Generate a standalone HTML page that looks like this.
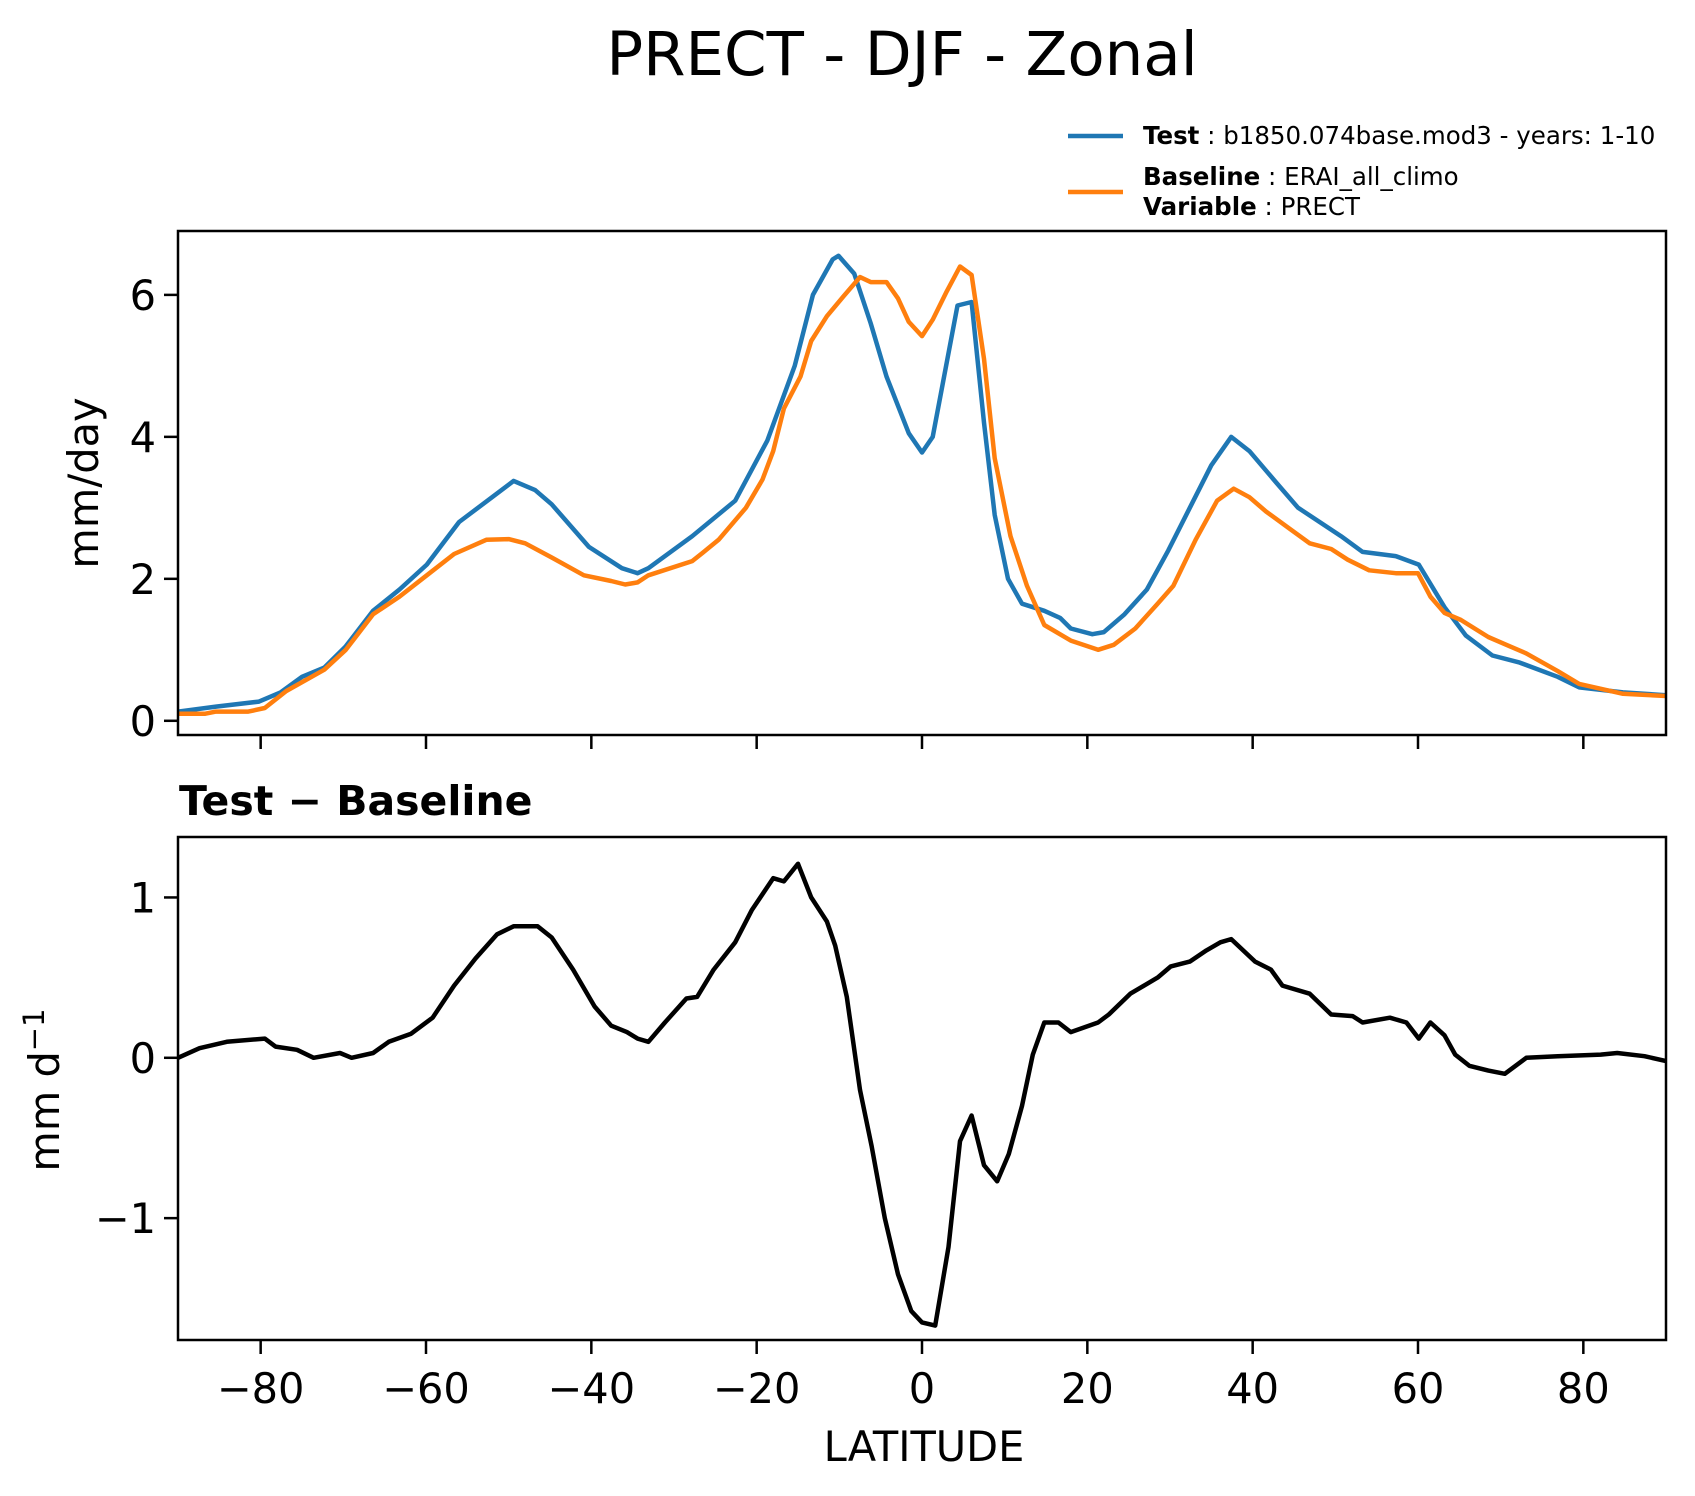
<!DOCTYPE html>
<html><head><meta charset="utf-8"><style>
html,body{margin:0;padding:0;background:#fff}
svg{display:block;font-family:"DejaVu Sans","Liberation Sans",sans-serif}
</style></head><body>
<svg id="fig" width="1695" height="1496" viewBox="0 0 1695 1496">
<text x="902" y="75" font-size="61" text-anchor="middle">PRECT - DJF - Zonal</text>
<g>
<line x1="1068" y1="136" x2="1123" y2="136" stroke="#1f77b4" stroke-width="4.5"/>
<text x="1143" y="144" font-size="24.5"><tspan font-weight="bold">Test</tspan> : b1850.074base.mod3 - years: 1-10</text>
<line x1="1068" y1="192" x2="1123" y2="192" stroke="#ff7f0e" stroke-width="4.5"/>
<text x="1143" y="185" font-size="24.5"><tspan font-weight="bold">Baseline</tspan> : ERAI_all_climo</text>
<text x="1143" y="215" font-size="24.5"><tspan font-weight="bold">Variable</tspan> : PRECT</text>
</g>
<text x="179" y="815" font-size="41" font-weight="bold">Test − Baseline</text>
<text transform="translate(98,483) rotate(-90)" font-size="41.5" text-anchor="middle">mm/day</text>
<text transform="translate(59,1090) rotate(-90)" font-size="41.5" text-anchor="middle">mm d<tspan font-size="29" dy="-15">−1</tspan></text>
<text x="924" y="1461" font-size="41.5" text-anchor="middle">LATITUDE</text>
<g id="plots"></g>
</svg>
<script>
const testLat=[-90,-85.4,-80.2,-77.6,-75,-72.3,-69.7,-66.4,-63.2,-59.9,-56,-52,-49.4,-46.8,-44.8,-40.3,-36.3,-34.4,-33.1,-27.8,-22.6,-18.7,-15.4,-13.2,-10.8,-10.1,-8.2,-6.2,-4.3,-1.6,0,1.3,4.3,6,7.5,8.8,10.4,12.1,14.8,16.7,18,20.6,22,24.5,27.2,29.8,32.4,35,37.4,39.6,42.9,45.5,48.1,50.7,53.3,57.3,60.1,63.2,65.8,69,72.3,76.9,79.5,84.8,90];
const testVals=[0.13,0.2,0.27,0.4,0.62,0.75,1.05,1.55,1.85,2.2,2.8,3.15,3.38,3.25,3.05,2.45,2.15,2.08,2.15,2.6,3.1,3.95,5.0,6.0,6.5,6.55,6.3,5.6,4.85,4.05,3.78,4.0,5.85,5.9,4.2,2.9,2.0,1.65,1.55,1.45,1.3,1.22,1.25,1.5,1.85,2.4,3.0,3.6,4.0,3.8,3.35,3.0,2.8,2.6,2.38,2.32,2.2,1.6,1.2,0.92,0.82,0.62,0.47,0.4,0.36];
const baseLat=[-90,-86.7,-85.4,-81.5,-79.5,-76.9,-72.3,-69.7,-66.4,-63.2,-59.9,-56.6,-52.7,-50,-48,-44.8,-40.9,-37.6,-35.9,-34.4,-33.1,-27.8,-26.5,-24.6,-21.3,-19.3,-18,-16.7,-14.7,-13.4,-11.5,-9.5,-7.5,-6.2,-4.3,-2.9,-1.6,0,1.3,3,4.6,6,7.5,8.8,10.7,12.7,14.8,18,21.3,23.2,25.8,28.5,30.4,33.1,35.7,37.7,39.6,41.6,44.3,46.9,49.5,51.5,54.1,57.3,60,61.5,63.2,65.2,68.5,71.1,73.1,76.9,79.5,84.8,90];
const baseVals=[0.1,0.1,0.13,0.13,0.18,0.42,0.72,1.0,1.5,1.75,2.05,2.35,2.55,2.56,2.5,2.3,2.05,1.97,1.92,1.95,2.05,2.25,2.37,2.55,3.0,3.4,3.8,4.4,4.85,5.35,5.7,5.98,6.25,6.18,6.18,5.95,5.62,5.42,5.65,6.05,6.4,6.28,5.1,3.7,2.6,1.9,1.35,1.13,1.0,1.07,1.3,1.65,1.9,2.55,3.1,3.27,3.15,2.95,2.72,2.5,2.42,2.27,2.12,2.08,2.08,1.75,1.52,1.42,1.18,1.05,0.95,0.7,0.52,0.38,0.35];
const diffLat=[-90,-87.4,-84.1,-79.5,-78.2,-75.6,-73.6,-70.4,-69,-66.4,-64.5,-61.8,-59.2,-56.6,-54,-51.4,-49.4,-46.5,-44.8,-42.2,-39.6,-37.6,-35.7,-34.4,-33.1,-31.1,-28.5,-27.2,-25.2,-22.6,-20.6,-18,-16.7,-15,-13.4,-11.5,-10.5,-9.1,-7.5,-6.1,-4.5,-2.9,-1.3,0,1.6,3.2,4.6,6,7.5,9.1,10.5,12.1,13.4,14.8,16.5,18,21.3,22.6,25.2,28.5,30.1,32.4,34.4,36.1,37.4,40.3,42.2,43.6,46.9,49.5,52.1,53.3,56.6,58.6,60.1,61.5,63.2,64.5,66.2,68.5,70.5,73.1,76.9,82.1,84.1,87.4,90];
const diffVals=[0,0.06,0.1,0.12,0.07,0.05,0.0,0.03,0.0,0.03,0.1,0.15,0.25,0.45,0.62,0.77,0.82,0.82,0.75,0.55,0.32,0.2,0.16,0.12,0.1,0.22,0.37,0.38,0.55,0.72,0.92,1.12,1.1,1.21,1.0,0.85,0.7,0.38,-0.2,-0.55,-1.0,-1.35,-1.58,-1.65,-1.67,-1.18,-0.52,-0.36,-0.67,-0.77,-0.6,-0.3,0.02,0.22,0.22,0.16,0.22,0.27,0.4,0.5,0.57,0.6,0.67,0.72,0.74,0.6,0.55,0.45,0.4,0.27,0.26,0.22,0.25,0.22,0.12,0.22,0.14,0.02,-0.05,-0.08,-0.1,0,0.01,0.02,0.03,0.01,-0.02];
const xTicks=[-80,-60,-40,-20,0,20,40,60,80];
const xTickLabels=["−80","−60","−40","−20","0","20","40","60","80"];
const topYTicks=[0,2,4,6];
const botYTicks=[-1,0,1];
const botYTickLabels=["−1","0","1"];

const NS="http://www.w3.org/2000/svg";
const g=document.getElementById('plots');
const L=178,R=1666;
const xs=v=>L+(v+90)/180*(R-L);
const topAx={t:231,b:735,ymin:-0.2,ymax:6.9};
const botAx={t:837,b:1340,ymin:-1.76,ymax:1.377};
const ys=(ax,v)=>ax.b-(v-ax.ymin)/(ax.ymax-ax.ymin)*(ax.b-ax.t);
function mk(tag,attrs,parent){const e=document.createElementNS(NS,tag);for(const k in attrs)e.setAttribute(k,attrs[k]);(parent||g).appendChild(e);return e;}
function clip(id,ax){const c=mk('clipPath',{id:id});mk('rect',{x:L,y:ax.t,width:R-L,height:ax.b-ax.t},c);}
clip('ct',topAx);clip('cb',botAx);
function line(ax,lat,vals,color,name,cid){
  const d=lat.map((v,i)=>(i?'L':'M')+xs(v).toFixed(1)+','+ys(ax,vals[i]).toFixed(1)).join('');
  const p=mk('path',{d:d,fill:'none',stroke:color,'stroke-width':4.5,'stroke-linejoin':'round','clip-path':'url(#'+cid+')'});
  
  
}
line(topAx,testLat,testVals,'#1f77b4','test-line','ct');
line(topAx,baseLat,baseVals,'#ff7f0e','baseline-line','ct');
line(botAx,diffLat,diffVals,'#000','difference-line','cb');
function frame(ax,name){
  const r=mk('rect',{x:L,y:ax.t,width:R-L,height:ax.b-ax.t,fill:'none',stroke:'#000','stroke-width':2.5});
  
  
}
frame(topAx,'top-axes-frame');frame(botAx,'bottom-axes-frame');
xTicks.forEach((v,i)=>{
  const x=xs(v);
  const t1=mk('line',{x1:x,x2:x,y1:topAx.b,y2:topAx.b+14,stroke:'#000','stroke-width':2.5});
  
  
  const t2=mk('line',{x1:x,x2:x,y1:botAx.b,y2:botAx.b+14,stroke:'#000','stroke-width':2.5});
  
  
  const tx=mk('text',{x:x,y:1403,'font-size':41.5,'text-anchor':'middle'});
  tx.textContent=xTickLabels[i];
  
  
});
function yt(ax,ticks,labels,name){
  ticks.forEach((v,i)=>{
    const y=ys(ax,v);
    const t=mk('line',{x1:L-14,x2:L,y1:y,y2:y,stroke:'#000','stroke-width':2.5});
    
    
    const tx=mk('text',{x:L-22,y:y+15,'font-size':41.5,'text-anchor':'end'});
    tx.textContent=labels?labels[i]:String(v);
    
    
  });
}
yt(topAx,topYTicks,null,'top-y');
yt(botAx,botYTicks,botYTickLabels,'bottom-y');
</script>
</body></html>
